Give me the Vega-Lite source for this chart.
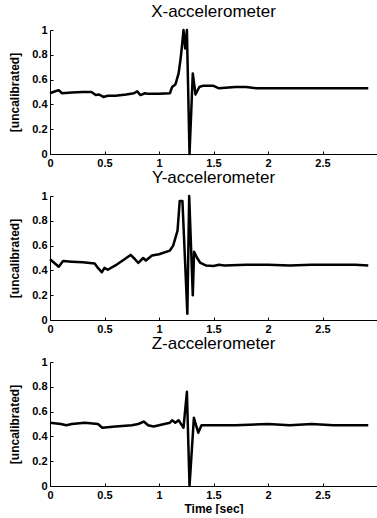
{
  "$schema": "https://vega.github.io/schema/vega-lite/v6.json",
  "background": "white",
  "padding": {"left": 8, "top": 3, "right": 0, "bottom": 0},
  "config": {
    "view": {"stroke": null},
    "font": "Liberation Sans",
    "axis": {
      "grid": false,
      "domainColor": "black",
      "domainWidth": 1,
      "tickColor": "black",
      "tickSize": -3,
      "labelColor": "black",
      "titleColor": "black",
      "labelFont": "Liberation Sans",
      "labelFontSize": 11,
      "labelFontWeight": "bold",
      "labelFlush": false,
      "labelPadding": 6,
      "format": "~g",
      "titleFont": "Liberation Sans",
      "titleFontSize": 12,
      "titleFontWeight": "bold"
    },
    "axisX": {"titlePadding": 3},
    "axisY": {"titlePadding": 10},
    "title": {"fontSize": 17, "fontWeight": "normal", "color": "black", "font": "Liberation Sans", "offset": 3},
    "concat": {"spacing": 1}
  },
  "data": {
    "values": [
      {"s": "X", "t": 0, "v": 0.49}, {"s": "X", "t": 0.03, "v": 0.5}, {"s": "X", "t": 0.08, "v": 0.515}, {"s": "X", "t": 0.11, "v": 0.49},
      {"s": "X", "t": 0.2, "v": 0.495}, {"s": "X", "t": 0.3, "v": 0.5}, {"s": "X", "t": 0.38, "v": 0.5}, {"s": "X", "t": 0.42, "v": 0.475},
      {"s": "X", "t": 0.45, "v": 0.48}, {"s": "X", "t": 0.49, "v": 0.46}, {"s": "X", "t": 0.53, "v": 0.47}, {"s": "X", "t": 0.6, "v": 0.47},
      {"s": "X", "t": 0.7, "v": 0.48}, {"s": "X", "t": 0.77, "v": 0.49}, {"s": "X", "t": 0.8, "v": 0.505}, {"s": "X", "t": 0.83, "v": 0.475},
      {"s": "X", "t": 0.87, "v": 0.49}, {"s": "X", "t": 0.9, "v": 0.485}, {"s": "X", "t": 1.0, "v": 0.485}, {"s": "X", "t": 1.1, "v": 0.49},
      {"s": "X", "t": 1.12, "v": 0.54}, {"s": "X", "t": 1.15, "v": 0.56}, {"s": "X", "t": 1.18, "v": 0.65}, {"s": "X", "t": 1.2, "v": 0.78},
      {"s": "X", "t": 1.225, "v": 1.0}, {"s": "X", "t": 1.24, "v": 0.85}, {"s": "X", "t": 1.256, "v": 1.0}, {"s": "X", "t": 1.28, "v": 0.0},
      {"s": "X", "t": 1.31, "v": 0.65}, {"s": "X", "t": 1.335, "v": 0.48}, {"s": "X", "t": 1.37, "v": 0.54}, {"s": "X", "t": 1.4, "v": 0.55},
      {"s": "X", "t": 1.5, "v": 0.55}, {"s": "X", "t": 1.55, "v": 0.53}, {"s": "X", "t": 1.7, "v": 0.54}, {"s": "X", "t": 1.8, "v": 0.54},
      {"s": "X", "t": 1.9, "v": 0.53}, {"s": "X", "t": 2.0, "v": 0.53}, {"s": "X", "t": 2.2, "v": 0.53}, {"s": "X", "t": 2.4, "v": 0.53},
      {"s": "X", "t": 2.6, "v": 0.53}, {"s": "X", "t": 2.8, "v": 0.53}, {"s": "X", "t": 2.92, "v": 0.53},

      {"s": "Y", "t": 0, "v": 0.49}, {"s": "Y", "t": 0.04, "v": 0.46}, {"s": "Y", "t": 0.08, "v": 0.43}, {"s": "Y", "t": 0.12, "v": 0.475},
      {"s": "Y", "t": 0.2, "v": 0.47}, {"s": "Y", "t": 0.3, "v": 0.465}, {"s": "Y", "t": 0.41, "v": 0.455}, {"s": "Y", "t": 0.44, "v": 0.42},
      {"s": "Y", "t": 0.475, "v": 0.385}, {"s": "Y", "t": 0.5, "v": 0.42}, {"s": "Y", "t": 0.53, "v": 0.405}, {"s": "Y", "t": 0.6, "v": 0.44},
      {"s": "Y", "t": 0.7, "v": 0.5}, {"s": "Y", "t": 0.74, "v": 0.525}, {"s": "Y", "t": 0.78, "v": 0.49}, {"s": "Y", "t": 0.81, "v": 0.46},
      {"s": "Y", "t": 0.855, "v": 0.5}, {"s": "Y", "t": 0.88, "v": 0.48}, {"s": "Y", "t": 0.935, "v": 0.52}, {"s": "Y", "t": 1.0, "v": 0.53},
      {"s": "Y", "t": 1.1, "v": 0.56}, {"s": "Y", "t": 1.13, "v": 0.6}, {"s": "Y", "t": 1.15, "v": 0.66}, {"s": "Y", "t": 1.17, "v": 0.72},
      {"s": "Y", "t": 1.19, "v": 0.96}, {"s": "Y", "t": 1.215, "v": 0.96}, {"s": "Y", "t": 1.26, "v": 0.05}, {"s": "Y", "t": 1.277, "v": 1.0},
      {"s": "Y", "t": 1.31, "v": 0.2}, {"s": "Y", "t": 1.322, "v": 0.55}, {"s": "Y", "t": 1.35, "v": 0.5}, {"s": "Y", "t": 1.38, "v": 0.46},
      {"s": "Y", "t": 1.43, "v": 0.44}, {"s": "Y", "t": 1.5, "v": 0.435}, {"s": "Y", "t": 1.55, "v": 0.445}, {"s": "Y", "t": 1.6, "v": 0.44},
      {"s": "Y", "t": 1.8, "v": 0.445}, {"s": "Y", "t": 2.0, "v": 0.445}, {"s": "Y", "t": 2.2, "v": 0.44}, {"s": "Y", "t": 2.4, "v": 0.445},
      {"s": "Y", "t": 2.6, "v": 0.445}, {"s": "Y", "t": 2.8, "v": 0.445}, {"s": "Y", "t": 2.92, "v": 0.44},

      {"s": "Z", "t": 0, "v": 0.51}, {"s": "Z", "t": 0.1, "v": 0.5}, {"s": "Z", "t": 0.15, "v": 0.49}, {"s": "Z", "t": 0.2, "v": 0.5},
      {"s": "Z", "t": 0.32, "v": 0.51}, {"s": "Z", "t": 0.44, "v": 0.5}, {"s": "Z", "t": 0.48, "v": 0.47}, {"s": "Z", "t": 0.6, "v": 0.48},
      {"s": "Z", "t": 0.75, "v": 0.49}, {"s": "Z", "t": 0.81, "v": 0.5}, {"s": "Z", "t": 0.86, "v": 0.52}, {"s": "Z", "t": 0.9, "v": 0.49},
      {"s": "Z", "t": 0.95, "v": 0.48}, {"s": "Z", "t": 1.0, "v": 0.49}, {"s": "Z", "t": 1.1, "v": 0.51}, {"s": "Z", "t": 1.12, "v": 0.53},
      {"s": "Z", "t": 1.15, "v": 0.51}, {"s": "Z", "t": 1.18, "v": 0.53}, {"s": "Z", "t": 1.21, "v": 0.49}, {"s": "Z", "t": 1.225, "v": 0.47},
      {"s": "Z", "t": 1.256, "v": 0.76}, {"s": "Z", "t": 1.28, "v": 0.0}, {"s": "Z", "t": 1.32, "v": 0.55}, {"s": "Z", "t": 1.36, "v": 0.43},
      {"s": "Z", "t": 1.39, "v": 0.49}, {"s": "Z", "t": 1.5, "v": 0.49}, {"s": "Z", "t": 1.7, "v": 0.49}, {"s": "Z", "t": 2.0, "v": 0.5},
      {"s": "Z", "t": 2.2, "v": 0.49}, {"s": "Z", "t": 2.4, "v": 0.5}, {"s": "Z", "t": 2.6, "v": 0.49}, {"s": "Z", "t": 2.8, "v": 0.49},
      {"s": "Z", "t": 2.92, "v": 0.49}
    ]
  },
  "vconcat": [
    {
      "title": "X-accelerometer",
      "width": 327, "height": 124,
      "transform": [{"filter": "datum.s === 'X'"}],
      "mark": {"type": "line", "color": "black", "strokeWidth": 2.5, "strokeJoin": "round"},
      "encoding": {
        "x": {"field": "t", "type": "quantitative", "scale": {"domain": [0, 3], "nice": false}, "axis": {"values": [0, 0.5, 1, 1.5, 2, 2.5], "title": null}},
        "y": {"field": "v", "type": "quantitative", "scale": {"domain": [0, 1], "nice": false}, "axis": {"values": [0, 0.2, 0.4, 0.6, 0.8, 1], "title": "[uncalibrated]"}}
      }
    },
    {
      "title": "Y-accelerometer",
      "width": 327, "height": 124,
      "transform": [{"filter": "datum.s === 'Y'"}],
      "mark": {"type": "line", "color": "black", "strokeWidth": 2.5, "strokeJoin": "round"},
      "encoding": {
        "x": {"field": "t", "type": "quantitative", "scale": {"domain": [0, 3], "nice": false}, "axis": {"values": [0, 0.5, 1, 1.5, 2, 2.5], "title": null}},
        "y": {"field": "v", "type": "quantitative", "scale": {"domain": [0, 1], "nice": false}, "axis": {"values": [0, 0.2, 0.4, 0.6, 0.8, 1], "title": "[uncalibrated]"}}
      }
    },
    {
      "title": "Z-accelerometer",
      "width": 327, "height": 124,
      "transform": [{"filter": "datum.s === 'Z'"}],
      "mark": {"type": "line", "color": "black", "strokeWidth": 2.5, "strokeJoin": "round"},
      "encoding": {
        "x": {"field": "t", "type": "quantitative", "scale": {"domain": [0, 3], "nice": false}, "axis": {"values": [0, 0.5, 1, 1.5, 2, 2.5], "title": "Time [sec]"}},
        "y": {"field": "v", "type": "quantitative", "scale": {"domain": [0, 1], "nice": false}, "axis": {"values": [0, 0.2, 0.4, 0.6, 0.8, 1], "title": "[uncalibrated]"}}
      }
    }
  ]
}
